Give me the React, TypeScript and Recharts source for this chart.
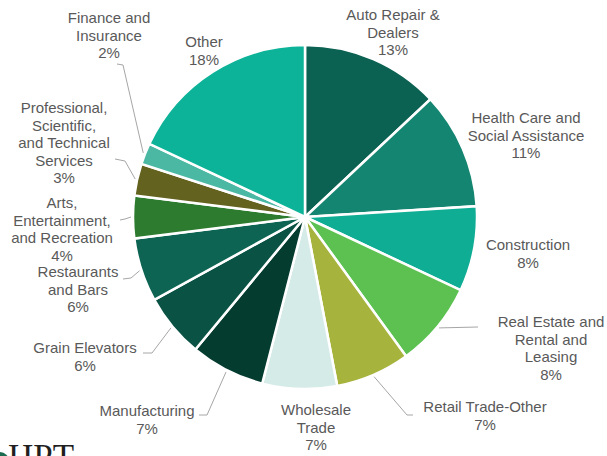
import { Pie, PieChart, Cell } from "recharts";

const categories = [
  "Auto Repair &\nDealers",
  "Health Care and\nSocial Assistance",
  "Construction",
  "Real Estate and\nRental and\nLeasing",
  "Retail Trade-Other",
  "Wholesale\nTrade",
  "Manufacturing",
  "Grain Elevators",
  "Restaurants\nand Bars",
  "Arts,\nEntertainment,\nand Recreation",
  "Professional,\nScientific,\nand Technical\nServices",
  "Finance and\nInsurance",
  "Other",
];
const shares = [13, 11, 8, 8, 7, 7, 7, 6, 6, 4, 3, 2, 18];
const colors = [
  "#0b6152", "#148571", "#10ad95", "#5dc151", "#a6b33d", "#d5ebe8", "#053c30",
  "#0a5244", "#0d6453", "#2c7b2f", "#64621f", "#4bb8a4", "#0db398",
];

const data = categories.map((name, i) => ({ name, value: shares[i] }));

// label placement: text centre x, first baseline y, leader elbow points
const labelLayout: { x: number; y: number; leader?: [number, number][] }[] = [
  { x: 393, y: 20 },
  { x: 526, y: 123 },
  { x: 528, y: 250 },
  { x: 551, y: 327, leader: [[478, 327]] },
  { x: 485, y: 412, leader: [[407, 415], [413, 415]] },
  { x: 316, y: 415 },
  { x: 147, y: 416, leader: [[207, 415], [199, 415]] },
  { x: 85, y: 353, leader: [[152, 353], [143, 353]] },
  { x: 78, y: 277, leader: [[131, 278], [123, 279]] },
  { x: 62, y: 208, leader: [[125, 219], [120, 220]] },
  { x: 64, y: 113, leader: [[125, 161], [115, 159]] },
  { x: 109, y: 23, leader: [[123, 65], [117, 64]] },
  { x: 204, y: 47 },
];

const RADIAN = Math.PI / 180;
const LINE_H = 17.6;

const renderLabel = ({ cx, cy, midAngle, outerRadius, index, value, name }: any) => {
  const lay = labelLayout[index];
  const lines = String(name).split("\n").concat([`${value}%`]);
  const r = outerRadius + 2;
  const sx = cx + r * Math.cos(-midAngle * RADIAN);
  const sy = cy + r * Math.sin(-midAngle * RADIAN);
  const pts = lay.leader ? [[sx, sy], ...lay.leader] : null;
  return (
    <g key={`lbl-${index}`}>
      {pts && (
        <polyline
          points={pts.map((p) => p.join(",")).join(" ")}
          fill="none"
          stroke="#a6a6a6"
          strokeWidth={1}
        />
      )}
      <text
        x={lay.x}
        y={lay.y}
        textAnchor="middle"
        fill="#595959"
        fontSize={15}
        fontFamily="'Liberation Sans', Arial, sans-serif"
      >
        {lines.map((l, i) => (
          <tspan key={i} x={lay.x} dy={i === 0 ? 0 : LINE_H}>
            {l}
          </tspan>
        ))}
      </text>
    </g>
  );
};

export default function App() {
  return (
    <div style={{ position: "absolute", left: 0, top: 0, background: "#fff" }}>
      <PieChart width={607} height={456} margin={{ top: 0, right: 0, bottom: 0, left: 0 }}>
        <Pie
          data={data}
          dataKey="value"
          nameKey="name"
          cx={305}
          cy={217}
          outerRadius={172}
          startAngle={90}
          endAngle={-270}
          stroke="#ffffff"
          strokeWidth={2.5}
          label={renderLabel}
          labelLine={false}
          isAnimationActive={false}
        >
          {data.map((d, i) => (
            <Cell key={d.name} fill={colors[i]} />
          ))}
        </Pie>
        <circle cx={0} cy={461} r={9} fill="#1a6b4f" />
        <text x={8} y={469} fontFamily="'Liberation Serif', serif" fontSize={35} fill="#1f1f1f">
          HPT
        </text>
      </PieChart>
    </div>
  );
}
